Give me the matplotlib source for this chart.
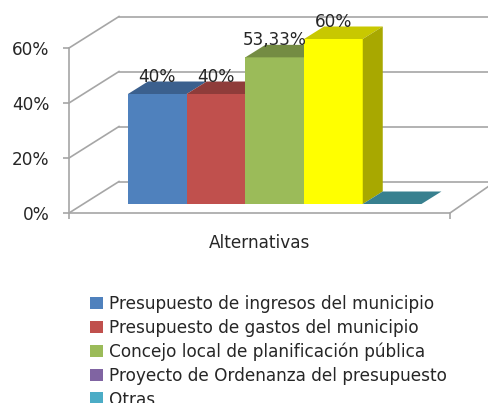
import matplotlib
matplotlib.use("Agg")
import matplotlib.pyplot as plt
from matplotlib.patches import Polygon, Patch
from matplotlib.transforms import ScaledTranslation

series = ["Presupuesto de ingresos del municipio", "Presupuesto de gastos del municipio",
          "Concejo local de planificación pública", "Proyecto de Ordenanza del presupuesto", "Otras"]
values = [40, 40, 53.33, 60, 0]
value_labels = ["40%", "40%", "53,33%", "60%", None]
front_colors = ["#4F81BD", "#C0504D", "#9BBB59", "#FFFF00", "#4BACC6"]
top_colors = ["#3B608E", "#8F3C3A", "#748C43", "#C8C800", "#38808F"]
side_colors = ["#345479", "#7A3331", "#637A39", "#A8A800", "#2F6E7B"]
legend_colors = ["#4F81BD", "#C0504D", "#9BBB59", "#8064A2", "#4BACC6"]
yticks = [0, 20, 40, 60]
GRID = "#A6A6A6"
TEXT = "#262626"
FS = 12.2

W, H, DPI = 489, 403, 100
fig = plt.figure(figsize=(W / DPI, H / DPI), dpi=DPI)
ax = fig.add_axes([69 / W, (H - 213) / H, 381 / W, 165 / H])

UX, UY = 58.7, 2.75  # pixels per data unit
ax.set_xlim((69 - 157.3) / UX, (450 - 157.3) / UX)
ax.set_ylim(0, 60)
ax.set_facecolor("none")

def shift(px, py):
    return ax.transData + ScaledTranslation(px / DPI, py / DPI, fig.dpi_scale_trans)

wall = shift(50, 31)
x0, x1 = ax.get_xlim()
for v in yticks:
    ax.plot([x0, x0 + 50 / UX], [v, v + 31.5 / UY], color=GRID, lw=1.2, clip_on=False, zorder=1)
    ax.plot([x0, x0 + 7], [v, v], color=GRID, lw=1.2, clip_on=False, zorder=1, transform=wall)
ax.plot([x1, x1 + 39 / UX], [0, 27 / UY], color=GRID, lw=1.2, clip_on=False, zorder=1)

# front plane of the bars sits 9 px above the floor edge
bar_tf = shift(0, 9)
dx, dy = 20 / UX, 12.5 / UY
for i, v in enumerate(values):
    ax.bar(i, v, width=1, color=front_colors[i], transform=bar_tf, clip_on=False, zorder=3 + i, linewidth=0)
    l, r = i - 0.5, i + 0.5
    ax.add_patch(Polygon([(l, v), (r, v), (r + dx, v + dy), (l + dx, v + dy)], closed=True,
                         facecolor=top_colors[i], edgecolor="none", transform=bar_tf, clip_on=False, zorder=3 + i))
    next_v = values[i + 1] if i + 1 < len(values) else 0
    if v > next_v:
        ax.add_patch(Polygon([(r, 0), (r, v), (r + dx, v + dy), (r + dx, dy)], closed=True,
                             facecolor=side_colors[i], edgecolor="none", transform=bar_tf, clip_on=False, zorder=3 + i))
    if value_labels[i]:
        ax.annotate(value_labels[i], (i, v), xycoords=bar_tf, xytext=(0, 12.5), textcoords="offset points",
                    ha="center", va="center", fontsize=FS, color=TEXT, zorder=20)

ax.set_xlim(x0, x1)
ax.set_ylim(0, 60)
for s in ("top", "right"):
    ax.spines[s].set_visible(False)
for s in ("left", "bottom"):
    ax.spines[s].set_color(GRID)
    ax.spines[s].set_linewidth(1.2)
ax.set_yticks(yticks)
ax.set_yticklabels([f"{v}%" for v in yticks], fontsize=FS, color=TEXT)
ax.set_xticks([x0, x1])
ax.set_xticklabels(["", ""])
ax.tick_params(axis="both", color=GRID, width=1.2, length=4.3)
ax.tick_params(axis="y", pad=10)
ax.set_xlabel("Alternativas", fontsize=FS, color=TEXT, labelpad=7)

handles = [Patch(facecolor=c, edgecolor="none", label=s) for c, s in zip(legend_colors, series)]
fig.legend(handles=handles, loc="upper left", bbox_to_anchor=(90 / W, 1 - 295 / H),
           bbox_transform=fig.transFigure, frameon=False, fontsize=FS, labelcolor=TEXT,
           handlelength=0.77, handleheight=0.77, handletextpad=0.33, labelspacing=0.34,
           borderpad=0, borderaxespad=0)
fig.savefig("out.png", dpi=DPI)
